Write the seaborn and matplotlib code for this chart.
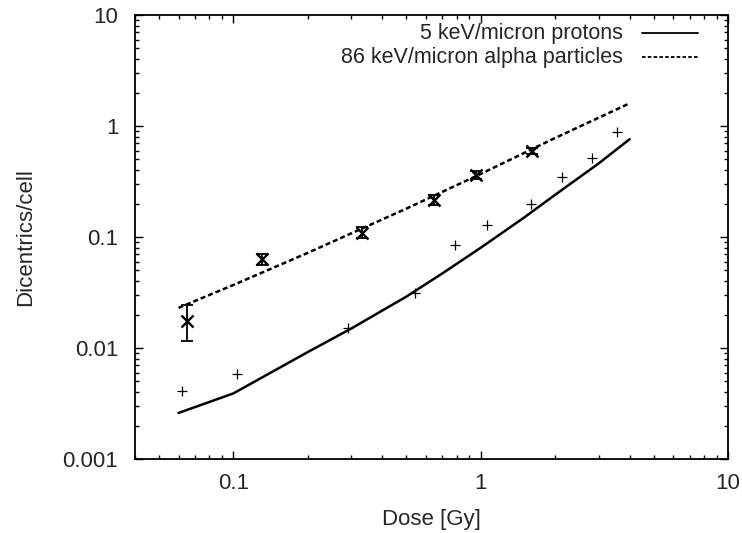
import matplotlib
matplotlib.use("Agg")
import matplotlib.pyplot as plt
import numpy as np
import pandas as pd
import seaborn as sns
from matplotlib.ticker import LogLocator, FixedLocator, FixedFormatter, NullFormatter
from matplotlib.lines import Line2D

# ---- data ----
proton_fit_dose = [0.06, 0.1, 0.2, 0.3, 0.5, 0.7, 1.0, 1.5, 2.0, 3.0, 4.0]
proton_fit_yield = [0.0026, 0.0039, 0.0092, 0.015, 0.029, 0.047, 0.08, 0.15, 0.24, 0.46, 0.76]

alpha_fit_dose = [0.06, 0.1, 0.2, 0.5, 1.0, 2.0, 4.0]
alpha_fit_yield = [0.023, 0.037, 0.072, 0.18, 0.37, 0.78, 1.6]

alpha_dose = [0.065, 0.13, 0.33, 0.65, 0.96, 1.61]
alpha_yield = [0.0175, 0.063, 0.109, 0.215, 0.36, 0.60]
alpha_low = [0.0116, 0.056, 0.097, 0.195, 0.335, 0.565]
alpha_high = [0.0244, 0.071, 0.122, 0.240, 0.390, 0.640]

proton_dose = [0.062, 0.103, 0.29, 0.54, 0.79, 1.06, 1.59, 2.13, 2.81, 3.56]
proton_yield = [0.0041, 0.0058, 0.015, 0.031, 0.085, 0.128, 0.20, 0.35, 0.515, 0.88]

legend_labels = ["5 keV/micron protons", "86 keV/micron alpha particles"]
x_ticks = [0.1, 1, 10]
x_ticklabels = ["0.1", "1", "10"]
y_ticks = [0.001, 0.01, 0.1, 1, 10]
y_ticklabels = ["0.001", "0.01", "0.1", "1", "10"]

sns.set_style("ticks")
plt.rcParams["font.family"] = ["Liberation Sans", "DejaVu Sans"]

fig = plt.figure(figsize=(7.42, 5.33), dpi=100)
ax = fig.add_axes([135 / 742, 1 - 459 / 533, 593 / 742, 444 / 533])

pf = pd.DataFrame({"dose": proton_fit_dose, "y": proton_fit_yield})
af = pd.DataFrame({"dose": alpha_fit_dose, "y": alpha_fit_yield})
pp = pd.DataFrame({"dose": proton_dose, "y": proton_yield})

sns.lineplot(data=pf, x="dose", y="y", ax=ax, color="black", lw=1.8,
             estimator=None, sort=False)
sns.lineplot(data=af, x="dose", y="y", ax=ax, color="black", lw=1.8,
             estimator=None, sort=False, linestyle=(0, (2.0, 1.2)))

ay = np.array(alpha_yield)
yerr = [ay - np.array(alpha_low), np.array(alpha_high) - ay]
ax.errorbar(alpha_dose, alpha_yield, yerr=yerr, fmt="none", ecolor="black",
            elinewidth=1.3, capsize=4, capthick=1.3)
sns.scatterplot(x=alpha_dose, y=alpha_yield, ax=ax, marker="x", s=75,
                color="black", linewidth=1.7, zorder=5)
sns.scatterplot(data=pp, x="dose", y="y", ax=ax, marker="+", s=60,
                color="black", linewidth=0.9, zorder=5)

ax.set_xscale("log")
ax.set_yscale("log")
ax.set_xlim(0.04, 10)
ax.set_ylim(0.001, 10)

ax.xaxis.set_major_locator(FixedLocator(x_ticks))
ax.xaxis.set_major_formatter(FixedFormatter(x_ticklabels))
ax.yaxis.set_major_locator(FixedLocator(y_ticks))
ax.yaxis.set_major_formatter(FixedFormatter(y_ticklabels))
ax.xaxis.set_minor_locator(LogLocator(base=10, subs=np.arange(2, 10), numticks=20))
ax.yaxis.set_minor_locator(LogLocator(base=10, subs=np.arange(2, 10), numticks=20))
ax.xaxis.set_minor_formatter(NullFormatter())
ax.yaxis.set_minor_formatter(NullFormatter())

ax.tick_params(which="both", direction="in", top=True, right=True, color="black",
               width=1.0)
ax.tick_params(which="major", length=6, labelsize=16, pad=10)
ax.tick_params(which="minor", length=3)
ax.tick_params(axis="y", which="major", pad=12)
for s in ax.spines.values():
    s.set_color("black")
    s.set_linewidth(1.3)

ax.set_xlabel("Dose [Gy]", fontsize=16, labelpad=11)
ax.set_ylabel("Dicentrics/cell", fontsize=16, labelpad=19)

# gnuplot-style key: right-aligned text followed by the line sample
key_rows = [0.959, 0.905]
key_styles = ["-", (0, (2.0, 1.2))]
for lab, yk, ls in zip(legend_labels, key_rows, key_styles):
    ax.text(0.823, yk, lab, transform=ax.transAxes, ha="right", va="center",
            fontsize=15.5)
    ax.add_line(Line2D([0.855, 0.949], [yk, yk], transform=ax.transAxes,
                       color="black", lw=1.3, linestyle=ls))

fig.savefig("out.png", dpi=100)
